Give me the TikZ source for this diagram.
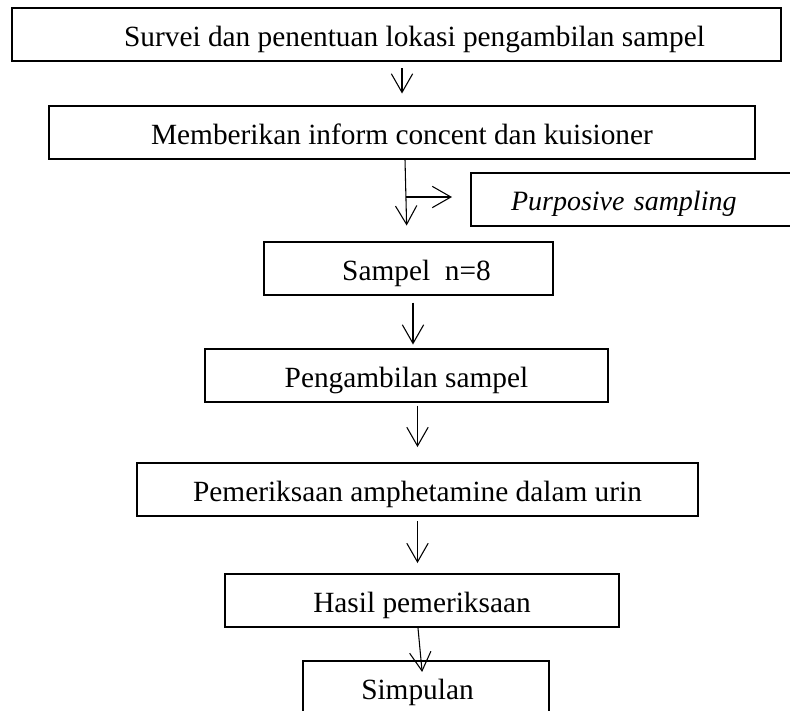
\documentclass[tikz,border=0pt]{standalone}
\usepackage{fontspec}
\setmainfont{Liberation Serif}
\usetikzlibrary{arrows.meta,calc}

\begin{document}
\begin{tikzpicture}[
  x=0.75pt, y=-0.75pt,
  font=\fontsize{22pt}{26pt}\selectfont,
  box/.style={draw, line width=1.5pt, minimum height=39.75pt, inner sep=0pt, text height=18pt, text depth=0pt},
  arr/.style={-{Straight Barb[length=14pt,width=16pt]}, line width=0.8pt},
]
\useasboundingbox (0,0) rectangle (790,711);

% ---- steps
\node[box, minimum width=576.75pt] (survei) at (396.5,34.5) {\hspace*{27pt}Survei dan penentuan lokasi pengambilan sampel};
\node[box, minimum width=529.5pt] (inform) at (402,132) {Memberikan inform concent dan kuisioner};
\node[box, anchor=west, text width=200pt, align=left, inner xsep=30pt, text height=16pt,
  font=\fontsize{21pt}{25pt}\selectfont\itshape] (purposive) at (470,199.5) {Purposive sampling};
\node[box, minimum width=216.75pt] (sampel) at (408.5,268) {\hspace*{12pt}Sampel\ \ n=8};
\node[box, minimum width=302.25pt] (ambil) at (406.5,375) {Pengambilan sampel};
\node[box, minimum width=420.75pt] (periksa) at (417.5,489.5) {Pemeriksaan amphetamine dalam urin};
\node[box, minimum width=295.5pt] (hasil) at (422,600.5) {Hasil pemeriksaan};
\node[box, minimum width=184.5pt] (simpulan) at (426,687.5) {Simpulan\hspace*{12.75pt}};

% ---- flow
\coordinate (split) at (406,197);
\draw[arr, shorten <=4.5pt, shorten >=8.25pt] (inform.north |- survei.south) -- (inform.north);
\draw[arr, shorten >=11.25pt] ($(inform.south)+(3,0)$) -- ($(sampel.north)+(-1.5,0)$);
\draw[arr, shorten >=13.5pt] (split) -- (split -| purposive.west);
\draw[arr, shorten <=5.25pt, shorten >=2.25pt] ($(sampel.south)+(4.5,0)$) -- ($(ambil.north)+(6.5,0)$);
\draw[arr, shorten <=2.25pt, shorten >=11.25pt] (periksa.north |- ambil.south) -- (periksa.north);
\draw[arr, shorten <=3pt, shorten >=7.5pt] (periksa.south) -- (periksa.south |- hasil.north);
\draw[arr, shorten >=-9pt] ($(hasil.south)+(-4,0)$) -- ($(simpulan.north)+(-5,0)$);
\end{tikzpicture}
\end{document}
